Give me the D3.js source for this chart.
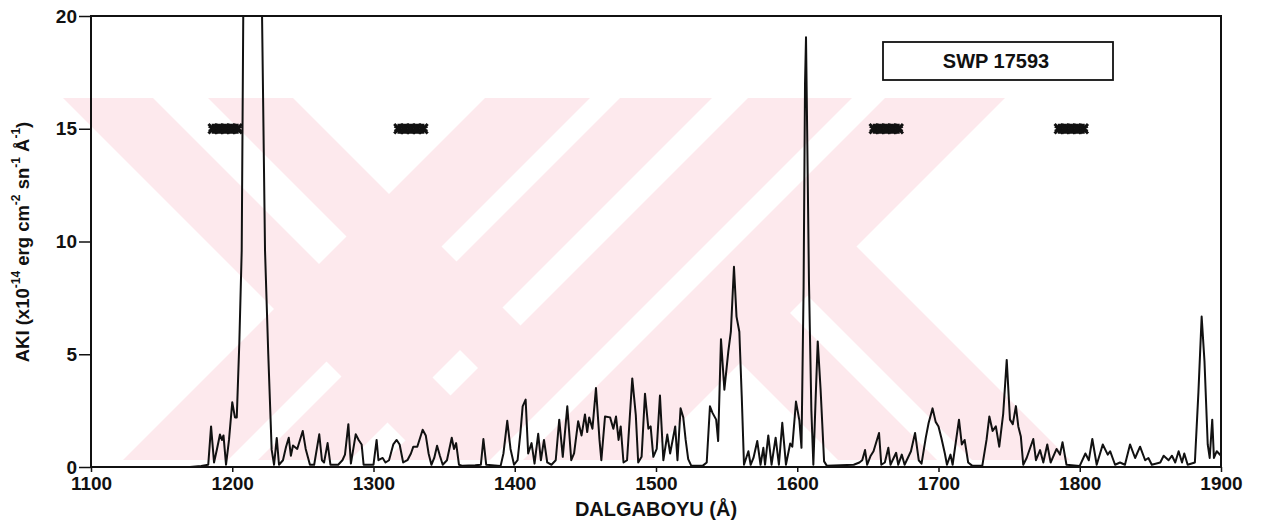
<!DOCTYPE html>
<html>
<head>
<meta charset="utf-8">
<script src="https://cdn.jsdelivr.net/npm/d3@7"></script>
<style>
  body { margin: 0; background: #fff; }
  svg { display: block; font-family: "Liberation Sans", Arial, sans-serif; }
</style>
</head>
<body>
<div class="main"></div>
<script>
// wavelength (Å) and flux (x1e-14 erg cm-2 s-1 Å-1)
var wavelength = [
  1100, 1170, 1178, 1183, 1185, 1187.1, 1189.2, 1191.3, 1192.7, 1193.8, 1195.6, 1197.7, 1200, 1201.9,
  1203.2, 1205, 1206.7, 1208, 1212, 1217, 1221, 1223.2, 1225.5, 1227.9, 1229.6,
  1231.5, 1233.1, 1235.9, 1238.1, 1240, 1241.5, 1243, 1246, 1249.9, 1252, 1255, 1258, 1261.6, 1263.5,
  1265, 1267.5, 1269.5, 1275, 1278, 1279.8, 1282.2, 1284, 1287.4, 1289.5, 1291.6, 1293, 1300, 1302.2,
  1303.5, 1306.5, 1308.5, 1311, 1314, 1316.4, 1318.5, 1321, 1324, 1326.5, 1328.2, 1331, 1334.8, 1337,
  1339, 1341, 1343, 1345, 1347, 1349, 1352, 1355.4, 1357, 1358.5, 1360.5, 1363, 1372, 1376, 1377.8,
  1379.8, 1390, 1392, 1394.7, 1397, 1399.5, 1402, 1404, 1405.6, 1407.7, 1409.5, 1411.9, 1414, 1416.6,
  1418.5, 1420.7, 1423, 1426, 1429, 1431.5, 1434, 1437.2, 1440, 1442, 1444.9, 1447.3, 1449.7, 1451.3,
  1452.7, 1455, 1457.5, 1460, 1461.3, 1463.9, 1467.5, 1469.8, 1471.7, 1473.5, 1475, 1477, 1479.5,
  1483.2, 1485.7, 1487.4, 1489.8, 1492.2, 1494.6, 1496.2, 1498.1, 1500.5, 1502.8, 1505.2, 1508, 1510,
  1513.6, 1515.2, 1517.4, 1519.3, 1521, 1522.8, 1525, 1533, 1535.9, 1538.2, 1540, 1542.6, 1544, 1546,
  1548.4, 1551.2, 1553, 1555.2, 1557, 1559, 1560.7, 1562.3, 1565.4, 1567, 1569, 1571.7, 1574, 1576,
  1577.2, 1579.5, 1581.8, 1584.7, 1587, 1589.4, 1592, 1595, 1596.5, 1599.1, 1601.5, 1603, 1604.5,
  1605.5, 1606.2, 1607, 1608.3, 1610, 1611.4, 1613, 1614.5, 1616.5, 1619, 1621, 1640, 1644, 1646, 1648,
  1649.5, 1652, 1654, 1657.9, 1659.5, 1662, 1664.5, 1666, 1670, 1671.5, 1674, 1676, 1679, 1680.5,
  1683.4, 1686, 1688, 1691, 1693, 1695.8, 1698, 1700, 1702, 1704.5, 1706, 1708.5, 1710, 1714.5, 1716.5,
  1718.5, 1721, 1724, 1731, 1734, 1736, 1738.3, 1740.6, 1743, 1745.8, 1748.3, 1750.6, 1752.6, 1754.8,
  1756.5, 1758.3, 1760, 1762.4, 1767.1, 1769, 1771.9, 1774.2, 1777, 1779.4, 1783.6, 1786, 1787.8,
  1790.6, 1800, 1804, 1806.4, 1808.9, 1812, 1816.3, 1819.8, 1821.5, 1825, 1828.5, 1832, 1835.6, 1839.2,
  1842.7, 1846.3, 1848.6, 1851, 1857, 1859.4, 1862.9, 1865.3, 1867.6, 1870, 1872.4, 1874, 1876.4,
  1881.5, 1884, 1886.3, 1888.3, 1890.6, 1892, 1893.8, 1895, 1897, 1900
];
var flux = [
  0, 0, 0.05, 0.1, 1.8, 0.2, 0.8, 1.44, 1.2, 1.4, 0.1, 1.2, 2.87, 2.2,
  2.2, 5.5, 9.6, 22, 40, 40, 20.5, 9.6, 5, 0.77, 0.1,
  1.29, 0.1, 0.3, 0.9, 1.3, 0.5, 0.95, 0.8, 1.6, 0.8, 0.1, 0.1, 1.45, 0.3,
  0.2, 1.06, 0.1, 0.1, 0.3, 0.55, 1.9, 0.15, 1.45, 1.2, 1.0, 0.1, 0.1, 1.2,
  0.3, 0.4, 0.2, 0.3, 1.0, 1.2, 1.0, 0.2, 0.3, 0.6, 0.9, 0.9, 1.65, 1.4,
  0.6, 0.1, 0.4, 0.94, 0.5, 0.1, 0.3, 1.3, 0.8, 1.06, 0.1, 0.05, 0.08, 0.1, 1.24,
  0.1, 0.05, 0.6, 2.05, 0.8, 0.1, 0.3, 1.5, 2.69, 2.99, 0.6, 1.06, 0.15, 1.47,
  0.3, 1.2, 0.2, 0.1, 0.3, 2.1, 0.45, 2.69, 0.3, 0.6, 2.03, 1.4, 2.33, 1.55,
  2.2, 1.7, 3.5, 1.2, 0.3, 2.24, 2.2, 1.7, 2.24, 1.2, 1.8, 0.2, 0.3,
  3.93, 2.3, 0.2, 0.45, 3.25, 1.7, 1.8, 0.45, 0.8, 3.17, 0.3, 1.44, 0.6,
  1.8, 0.3, 2.6, 2.2, 1.2, 0.35, 0.05, 0.05, 0.2, 2.69, 2.4, 2.1, 1.15, 5.67,
  3.43, 5.13, 6, 8.88, 6.67, 6.0, 3.14, 0.1, 0.7, 0.1, 0.4, 1.15, 0.1, 0.85,
  0.1, 1.4, 0.1, 1.3, 0.1, 1.96, 0.1, 1.04, 0.9, 2.9, 2.07, 0.85, 8,
  17, 19.06, 15, 8.2, 2.5, 0.1, 3, 5.57, 3.47, 0.25, 0.05, 0.1, 0.2, 0.3, 0.75,
  0.1, 0.5, 0.7, 1.51, 0.1, 0.2, 0.85, 0.1, 0.63, 0.1, 0.55, 0.1, 0.5, 0.7,
  1.51, 0.3, 0.15, 1.3, 1.95, 2.6, 2.0, 1.8, 1.3, 0.6, 0.1, 0.55, 0.1, 2.1, 1.0,
  1.2, 0.2, 0.05, 0.05, 1.2, 2.24, 1.6, 1.8, 0.9, 2.36, 4.75, 2.1, 1.9, 2.7,
  1.8, 1.35, 0.1, 0.4, 1.24, 0.3, 0.75, 0.2, 1.0, 0.2, 0.8, 0.55, 1.1,
  0.1, 0.05, 0.6, 0.3, 1.24, 0.1, 1.0, 0.55, 0.7, 0.1, 0.2, 0.1, 1.0, 0.4,
  0.9, 0.3, 0.4, 0.1, 0.2, 0.5, 0.3, 0.5, 0.2, 0.7, 0.2, 0.6, 0.1,
  0.2, 3.3, 6.67, 4.7, 1.0, 0.4, 2.1, 0.4, 0.7, 0.5
];

// the "***" marks drawn at 15
var markWl = [1195, 1326.5, 1663, 1794];
var markLevel = 15;

var xTicks = [1100, 1200, 1300, 1400, 1500, 1600, 1700, 1800, 1900];
var yTicks = [0, 5, 10, 15, 20];
var title = "SWP 17593";

var W = 1269, H = 527;
var margin = {top: 16, right: 48, bottom: 60, left: 91};

var svg = d3.select(".main").append("svg")
    .attr("width", W)
    .attr("height", H);
var defs = svg.append("defs");

// pale watermark of the scanned page, built from 45 deg arms with a thin white gap in each
var wmColor = "#fde9ed";
var wmTop = 98, wmBot = 460;
function arm(a, b, dir, ya) {
    // [a,b] = x span the arm would have on the top line; ya = where it starts
    ya = ya || wmTop;
    var s = dir === "down" ? 1 : -1;
    return [[a + s * (ya - wmTop), ya], [b + s * (ya - wmTop), ya],
            [b + s * (wmBot - wmTop), wmBot], [a + s * (wmBot - wmTop), wmBot]];
}
var arms = {
    L1: {band: arm(63, 293, "down"),       gap: arm(153, 208, "down"),       hiddenBy: ["L2", "R2"]},
    L2: {band: arm(485, 712, "up"),        gap: arm(590, 620, "up"),         hiddenBy: ["L1"]},
    R2: {band: arm(748, 1005, "up"),       gap: arm(852, 885, "up"),         hiddenBy: []},
    R1: {band: arm(476, 708, "down", 245), gap: arm(575, 610, "down", 245),  hiddenBy: ["R2"]}
};
var wmG = svg.append("g");
Object.keys(arms).forEach(function(k) {
    wmG.append("polygon").attr("points", arms[k].band.join(" ")).attr("fill", wmColor);
});
Object.keys(arms).forEach(function(k) {
    var m = defs.append("mask").attr("id", "gap-" + k).attr("maskUnits", "userSpaceOnUse")
        .attr("x", 0).attr("y", 0).attr("width", W).attr("height", H);
    m.append("rect").attr("width", W).attr("height", H).attr("fill", "#fff");
    arms[k].hiddenBy.forEach(function(o) {
        m.append("polygon").attr("points", arms[o].band.join(" ")).attr("fill", "#000");
    });
    wmG.append("polygon").attr("points", arms[k].gap.join(" "))
        .attr("fill", "#fff").attr("mask", "url(#gap-" + k + ")");
});

var x = d3.scaleLinear().domain([1100, 1900]).range([margin.left, W - margin.right]);
var y = d3.scaleLinear().domain([0, 20]).range([H - margin.bottom, margin.top]);

defs.append("clipPath").attr("id", "plotclip")
  .append("rect")
    .attr("x", x(1100)).attr("y", y(20))
    .attr("width", x(1900) - x(1100)).attr("height", y(0) - y(20));

var data = wavelength.map(function(w, i) { return [w, flux[i]]; });

var line = d3.line()
    .x(function(d) { return x(d[0]); })
    .y(function(d) { return y(d[1]); });

svg.append("path")
    .datum(data)
    .attr("clip-path", "url(#plotclip)")
    .attr("fill", "none")
    .attr("stroke", "#111")
    .attr("stroke-width", 2)
    .attr("stroke-linejoin", "round")
    .attr("d", line);

// frame
svg.append("rect")
    .attr("x", x(1100)).attr("y", y(20))
    .attr("width", x(1900) - x(1100)).attr("height", y(0) - y(20))
    .attr("fill", "none").attr("stroke", "#111").attr("stroke-width", 2);

// axes
var xAxis = svg.append("g")
    .attr("transform", "translate(0," + y(0) + ")")
    .call(d3.axisBottom(x).tickValues(xTicks).tickSize(5).tickFormat(d3.format("d")));
var yAxis = svg.append("g")
    .attr("transform", "translate(" + x(1100) + ",0)")
    .call(d3.axisLeft(y).tickValues(yTicks).tickSize(12).tickPadding(2));

[xAxis, yAxis].forEach(function(g) {
    g.select(".domain").remove();
    g.selectAll("line").attr("stroke", "#111").attr("stroke-width", 1.5);
    g.selectAll("text")
        .attr("fill", "#111")
        .style("font-size", "19px")
        .style("font-weight", "bold");
});
xAxis.selectAll("text").attr("y", 23).attr("dy", 0);
yAxis.selectAll("text").attr("dy", "0.32em");

// star marks
var star = d3.symbol().type(d3.symbolAsterisk).size(70);
var starX = d3.symbol().type(d3.symbolX).size(60);
var marks = svg.append("g");
markWl.forEach(function(w) {
    [-12, -6, 0, 6, 12].forEach(function(off) {
        var t = "translate(" + (x(w) + off) + "," + y(markLevel) + ")";
        marks.append("path").attr("d", star()).attr("transform", t)
            .attr("fill", "none").attr("stroke", "#111").attr("stroke-width", 3);
        marks.append("path").attr("d", starX()).attr("transform", t)
            .attr("fill", "none").attr("stroke", "#111").attr("stroke-width", 3);
    });
});

// title box
svg.append("rect")
    .attr("x", 883).attr("y", 42).attr("width", 230).attr("height", 38)
    .attr("fill", "#fff").attr("stroke", "#111").attr("stroke-width", 1.8);
svg.append("text")
    .attr("x", 996).attr("y", 68)
    .attr("text-anchor", "middle")
    .style("font-size", "20px").style("font-weight", "bold")
    .attr("fill", "#111")
    .text(title);

// axis titles
svg.append("text")
    .attr("x", (x(1100) + x(1900)) / 2).attr("y", 516)
    .attr("text-anchor", "middle")
    .style("font-size", "20px").style("font-weight", "bold")
    .attr("fill", "#111")
    .text("DALGABOYU (Å)");

var yl = svg.append("text")
    .attr("transform", "translate(29," + 242 + ") rotate(-90)")
    .attr("text-anchor", "middle")
    .style("font-size", "18.5px").style("font-weight", "bold")
    .attr("fill", "#111");
yl.append("tspan").text("AKI (x10");
yl.append("tspan").attr("dy", -9).style("font-size", "12px").text("-14");
yl.append("tspan").attr("dy", 9).text(" erg cm");
yl.append("tspan").attr("dy", -9).style("font-size", "12px").text("-2");
yl.append("tspan").attr("dy", 9).text(" sn");
yl.append("tspan").attr("dy", -9).style("font-size", "12px").text("-1");
yl.append("tspan").attr("dy", 9).text(" Å");
yl.append("tspan").attr("dy", -9).style("font-size", "12px").text("-1");
yl.append("tspan").attr("dy", 9).text(")");
</script>
</body>
</html>
